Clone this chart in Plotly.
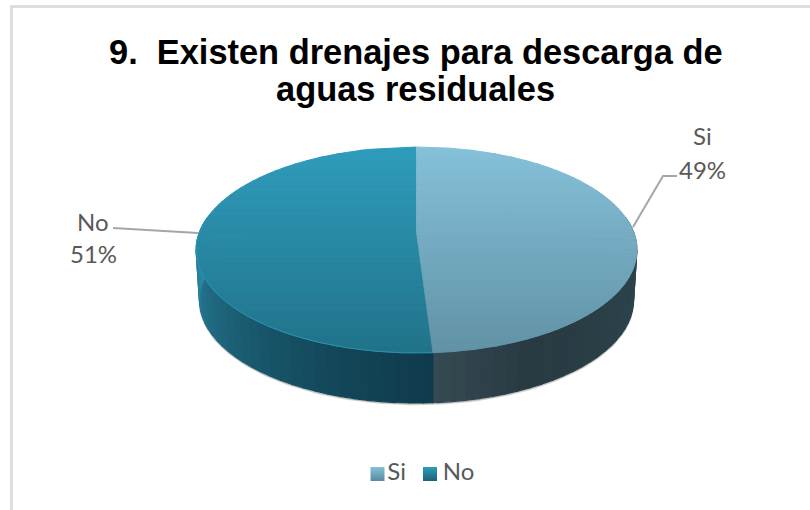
import math
import numpy as np
import plotly.graph_objects as go

categories = ["Si", "No"]
values = [49, 51]
percent_labels = ["49%", "51%"]
title_lines = ["9.  Existen drenajes para descarga de", "aguas residuales"]

# Projection of the 3D pie onto the page
CX, CY, SX, SY, P = 416.5, 232, 217, 99.85, 0.1747
DEPTH, BOTTOM_SCALE = 50, 0.985


def project(theta, dy=0.0, scale=1.0):
    X, Y = np.sin(theta), np.cos(theta)
    d = 1 + P * Y
    return CX + scale * SX * X / d, CY + dy - SY * Y / d


def mix(c1, c2, t):
    a = [int(c1[i:i + 2], 16) for i in (1, 3, 5)]
    b = [int(c2[i:i + 2], 16) for i in (1, 3, 5)]
    return "rgb(%d,%d,%d)" % tuple(round(a[i] + (b[i] - a[i]) * t) for i in range(3))


split = 2 * math.pi * values[0] / sum(values)
fig = go.Figure()


def poly(x, y, color, line=1.0):
    fig.add_trace(go.Scatter(x=x, y=y, mode="lines", fill="toself", fillcolor=color,
                             line=dict(color=color, width=line), hoverinfo="skip", showlegend=False))


# Soft shadow under the disc
ts = np.linspace(0, 2 * math.pi, 200)
sx, sy = project(ts, dy=DEPTH + 1.5, scale=BOTTOM_SCALE)
poly(sx, sy, "rgba(120,120,120,0.30)", 1.5)

# Side wall, drawn in narrow strips
wall_cuts = sorted(set(np.linspace(math.pi / 2 - 0.15, 3 * math.pi / 2 + 0.15, 64).tolist() + [split]))
for a0, a1 in zip(wall_cuts[:-1], wall_cuts[1:]):
    mid = (a0 + a1) / 2
    if mid < split:
        t = (mid - math.pi / 2) / (split - math.pi / 2)
        col = mix("#2f4750", "#283a42", t / 0.75) if t < 0.75 else mix("#283a42", "#364a53", (t - 0.75) / 0.25)
    else:
        t = (mid - split) / (3 * math.pi / 2 - split)
        col = mix("#0f3c4c", "#2a86a3", t ** 1.3)
    th = np.linspace(a0, a1, 5)
    tx, ty = project(th)
    bx, by = project(th, dy=DEPTH, scale=BOTTOM_SCALE)
    poly(np.r_[tx, bx[::-1], tx[0]], np.r_[ty, by[::-1], ty[0]], col, 1.2)

# Top face, drawn in horizontal bands for the vertical gradient
top_y, bot_y = 147.0, 353.0
arc_si = np.linspace(0, split, 300)
arc_no = np.linspace(split, 2 * math.pi, 300)
ex_si, ey_si = project(arc_si)
ex_no, ey_no = project(arc_no)
end_x, end_y = project(np.array([split]))


def divider_x(y):
    if y <= CY:
        return CX
    return CX + (end_x[0] - CX) * (y - CY) / (end_y[0] - CY)


bands = np.linspace(top_y, end_y[0], 61)
for y0, y1 in zip(bands[:-1], bands[1:]):
    t = ((y0 + y1) / 2 - top_y) / (bot_y - top_y)
    ys = np.linspace(y0, y1, 4)
    right = np.interp(ys, ey_si, ex_si)
    left = np.interp(ys, ey_no[::-1], ex_no[::-1])
    div = np.array([divider_x(v) for v in ys])
    poly(np.r_[left, div[::-1], left[0]], np.r_[ys, ys[::-1], ys[0]], mix("#2f9cbc", "#207389", t))
    poly(np.r_[div, right[::-1], div[0]], np.r_[ys, ys[::-1], ys[0]], mix("#85c1d9", "#6192a5", t))

# Thin highlight along the front edge of the No slice
rim = np.linspace(split, 3 * math.pi / 2 + 0.1, 120)
rx, ry = project(rim)
fig.add_trace(go.Scatter(x=rx, y=ry, mode="lines", hoverinfo="skip", showlegend=False,
                         line=dict(color="#2c92b0", width=1)))

# Leader lines
fig.add_trace(go.Scatter(x=[677, 663, 633], y=[176, 176, 227], mode="lines", hoverinfo="skip", showlegend=False,
                         line=dict(color="#a6a6a6", width=2)))
fig.add_trace(go.Scatter(x=[113, 198], y=[228, 233], mode="lines", hoverinfo="skip", showlegend=False,
                         line=dict(color="#a6a6a6", width=2)))

# Legend row
legend_x = [377.5, 430]
legend_prefix = ["", "\u2009"]
legend_colors = [("#85c1d9", "#5a8b9e"), ("#2f9cbc", "#1c6277")]
for name, lx, pre, (c1, c2) in zip(categories, legend_x, legend_prefix, legend_colors):
    fig.add_trace(go.Scatter(x=[lx], y=[474], mode="markers+text", name=name, showlegend=False, text=[pre + name],
                             textposition="middle right", hoverinfo="skip",
                             textfont=dict(family="Lato", size=24, color="#595959"),
                             marker=dict(symbol="square", size=14, color=c1, line=dict(width=0),
                                         gradient=dict(type="vertical", color=c2))))

annotations = [dict(x=415.5, y=y, xref="x", yref="y", text="<b>" + txt + "</b>", showarrow=False,
                    font=dict(family="Liberation Sans", size=34.4, color="#000000"))
               for txt, y in zip(title_lines, [52, 89])]
for txt, x, y in [(categories[0], 702, 135), (percent_labels[0], 702, 169),
                  (categories[1], 93, 221), (percent_labels[1], 93, 253)]:
    annotations.append(dict(x=x, y=y, xref="x", yref="y", text=txt, showarrow=False,
                            font=dict(family="Lato", size=24, color="#595959")))

fig.update_layout(
    width=810, height=510, margin=dict(l=0, r=0, t=0, b=0), showlegend=False,
    paper_bgcolor="white", plot_bgcolor="white", annotations=annotations,
    xaxis=dict(range=[0, 810], visible=False, fixedrange=True),
    yaxis=dict(range=[510, 0], visible=False, fixedrange=True),
    shapes=[
        dict(type="line", x0=11.5, x1=11.5, y0=6.5, y1=510, line=dict(color="#dedede", width=3), layer="below"),
        dict(type="line", x0=10, x1=810, y0=6.5, y1=6.5, line=dict(color="#dedede", width=3), layer="below"),
    ],
)
fig.write_html("out.html", config={"displayModeBar": False},
               post_script="document.body.style.margin='0';document.documentElement.style.overflow='hidden';")
